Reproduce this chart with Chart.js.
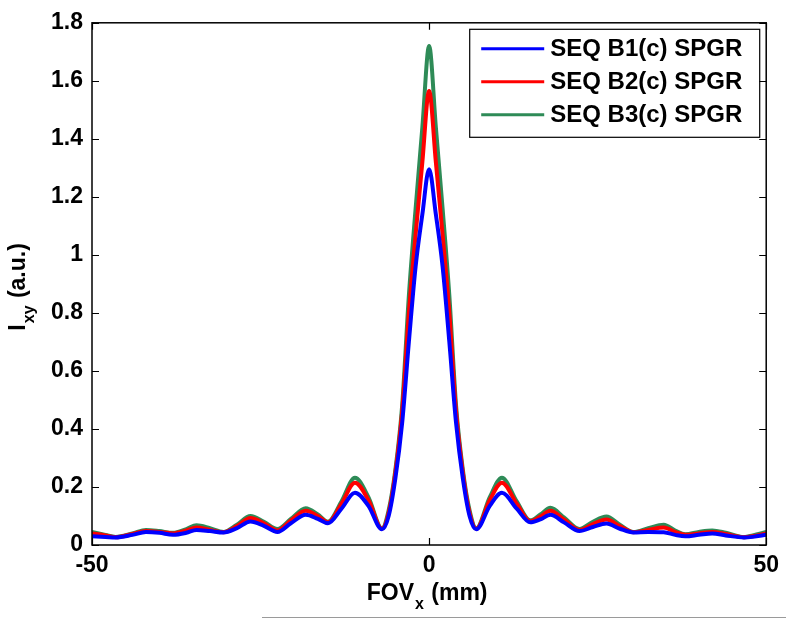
<!DOCTYPE html>
<html>
<head>
<meta charset="utf-8">
<script src="https://cdn.jsdelivr.net/npm/chart.js@4.4.0/dist/chart.umd.min.js"></script>
<style>
  html, body { margin: 0; padding: 0; background: #fff; }
  #wrap { width: 786px; height: 619px; }
</style>
</head>
<body>
<div id="wrap"><canvas id="psfChart" width="786" height="619"></canvas></div>
<script>
// Field of view positions (mm)
const fovX = [-50, -48, -46.5, -44, -42, -40, -38, -36, -34.5, -32.5, -30.5, -28.5, -26.5, -24.5, -22.5, -20.5, -18.3, -16.5, -15, -13, -11, -9, -7, -6, -5, -4, -3, -2, -1, 0, 1, 2, 3, 4, 5, 6, 7, 9, 10.8, 13, 15, 16.5, 18, 20, 22.3, 24.3, 26.3, 28.3, 30.3, 32.5, 34.8, 36.5, 38, 40, 42, 44, 46.7, 48, 50]

// Ixy (a.u.) per sequence
const seqB1 = [0.030, 0.028, 0.026, 0.035, 0.045, 0.042, 0.035, 0.042, 0.052, 0.048, 0.043, 0.058, 0.081, 0.066, 0.045, 0.075, 0.104, 0.090, 0.075, 0.125, 0.180, 0.135, 0.054, 0.10, 0.23, 0.42, 0.70, 0.96, 1.14, 1.295, 1.14, 0.96, 0.70, 0.42, 0.23, 0.10, 0.054, 0.135, 0.180, 0.125, 0.078, 0.088, 0.104, 0.078, 0.048, 0.062, 0.074, 0.056, 0.043, 0.045, 0.044, 0.035, 0.030, 0.035, 0.040, 0.033, 0.026, 0.028, 0.035]
const seqB2 = [0.040, 0.033, 0.027, 0.038, 0.048, 0.045, 0.040, 0.050, 0.060, 0.052, 0.044, 0.065, 0.093, 0.075, 0.050, 0.085, 0.118, 0.100, 0.078, 0.142, 0.215, 0.155, 0.056, 0.11, 0.25, 0.46, 0.80, 1.07, 1.32, 1.565, 1.32, 1.07, 0.80, 0.46, 0.25, 0.11, 0.056, 0.155, 0.215, 0.142, 0.082, 0.098, 0.118, 0.088, 0.052, 0.072, 0.088, 0.065, 0.044, 0.052, 0.060, 0.045, 0.035, 0.040, 0.045, 0.038, 0.027, 0.030, 0.040]
const seqB3 = [0.045, 0.035, 0.028, 0.040, 0.052, 0.048, 0.042, 0.055, 0.068, 0.058, 0.045, 0.070, 0.100, 0.080, 0.055, 0.090, 0.127, 0.105, 0.080, 0.150, 0.232, 0.165, 0.058, 0.12, 0.26, 0.48, 0.86, 1.16, 1.44, 1.72, 1.44, 1.16, 0.86, 0.48, 0.26, 0.12, 0.058, 0.165, 0.232, 0.150, 0.085, 0.105, 0.128, 0.095, 0.055, 0.080, 0.098, 0.070, 0.045, 0.058, 0.070, 0.050, 0.037, 0.045, 0.050, 0.042, 0.027, 0.033, 0.045]

const seriesLabels = ['SEQ B1(c) SPGR', 'SEQ B2(c) SPGR', 'SEQ B3(c) SPGR']
const seriesColors = ['#0000ff', '#ff0000', '#2e8b57']

// Axis ticks
const xTicks = [-50, 0, 50]
const xTickLabels = ['-50', '0', '50']
const yTicks = [0, 0.2, 0.4, 0.6, 0.8, 1, 1.2, 1.4, 1.6, 1.8]
const yTickLabels = ['0', '0.2', '0.4', '0.6', '0.8', '1', '1.2', '1.4', '1.6', '1.8']

const FAMILY = '"Liberation Sans", Arial, sans-serif'
const FONT = 'bold 23px ' + FAMILY
const LEGEND_FONT = 'bold 24px ' + FAMILY
const SUB_FONT = 'bold 16px ' + FAMILY

function toPoints(ys) {
  return fovX.map((x, i) => ({ x: x, y: ys[i] }))
}

// Box, inward ticks, axis titles, legend and the thin grey line below
const matlabFrame = {
  id: 'matlabFrame',
  afterDraw(chart) {
    const { ctx, chartArea: a, scales } = chart
    const xs = scales.x
    const ys = scales.y
    ctx.save()
    ctx.strokeStyle = '#000'
    ctx.lineWidth = 1.5
    ctx.strokeRect(a.left, a.top, a.right - a.left, a.bottom - a.top)

    const tl = 7
    ctx.beginPath()
    xTicks.forEach((v) => {
      const px = Math.round(xs.getPixelForValue(v)) + 0.5
      ctx.moveTo(px, a.bottom); ctx.lineTo(px, a.bottom - tl)
      ctx.moveTo(px, a.top); ctx.lineTo(px, a.top + tl)
    })
    yTicks.forEach((v) => {
      const py = Math.round(ys.getPixelForValue(v)) + 0.5
      ctx.moveTo(a.left, py); ctx.lineTo(a.left + tl, py)
      ctx.moveTo(a.right, py); ctx.lineTo(a.right - tl, py)
    })
    ctx.lineWidth = 1.2
    ctx.stroke()

    // x title with subscript
    ctx.fillStyle = '#000'
    ctx.textBaseline = 'alphabetic'
    ctx.textAlign = 'left'
    const p1 = 'FOV', p2 = 'x', p3 = ' (mm)'
    ctx.font = FONT
    const w1 = ctx.measureText(p1).width
    const w3 = ctx.measureText(p3).width
    ctx.font = SUB_FONT
    const w2 = ctx.measureText(p2).width
    const tx = (a.left + a.right) / 2 - 3 - (w1 + w2 + w3) / 2
    const ty = 600
    ctx.font = FONT
    ctx.fillText(p1, tx, ty)
    ctx.font = SUB_FONT
    ctx.fillText(p2, tx + w1 + 1, ty + 9)
    ctx.font = FONT
    ctx.fillText(p3, tx + w1 + w2 + 2, ty)

    // y title, rotated, with subscript
    ctx.save()
    ctx.translate(25, (a.top + a.bottom) / 2 + 4)
    ctx.rotate(-Math.PI / 2)
    const q1 = 'I', q2 = 'xy', q3 = ' (a.u.)'
    ctx.font = FONT
    const v1 = ctx.measureText(q1).width
    const v3 = ctx.measureText(q3).width
    ctx.font = SUB_FONT
    const v2 = ctx.measureText(q2).width
    const sx = -(v1 + v2 + v3) / 2
    ctx.font = FONT
    ctx.fillText(q1, sx, 0)
    ctx.font = SUB_FONT
    ctx.fillText(q2, sx + v1 + 1, 9)
    ctx.font = FONT
    ctx.fillText(q3, sx + v1 + v2 + 2, 0)
    ctx.restore()

    // legend box
    const bw = 290, bh = 108
    const bx = a.right - 7 - bw
    const by = a.top + 6
    ctx.fillStyle = '#fff'
    ctx.fillRect(bx, by, bw, bh)
    ctx.strokeStyle = '#000'
    ctx.lineWidth = 1.2
    ctx.strokeRect(bx + 0.5, by + 0.5, bw, bh)
    ctx.font = LEGEND_FONT
    ctx.textBaseline = 'middle'
    chart.data.datasets.forEach((ds, i) => {
      const ry = by + 20 + i * 33
      ctx.strokeStyle = ds.borderColor
      ctx.lineWidth = 3
      ctx.beginPath()
      ctx.moveTo(bx + 12, ry); ctx.lineTo(bx + 75, ry)
      ctx.stroke()
      ctx.fillStyle = '#000'
      ctx.fillText(ds.label, bx + 81, ry + 1)
    })

    // grey rule at the bottom of the picture
    ctx.strokeStyle = '#9a9a9a'
    ctx.lineWidth = 1
    ctx.beginPath()
    ctx.moveTo(262, 617.5); ctx.lineTo(786, 617.5)
    ctx.stroke()
    ctx.restore()
  }
}

const ctx = document.getElementById('psfChart').getContext('2d')
new Chart(ctx, {
  type: 'line',
  data: {
    datasets: [seqB1, seqB2, seqB3].map((ys, i) => ({
      label: seriesLabels[i],
      data: toPoints(ys),
      borderColor: seriesColors[i],
      borderWidth: 4,
      pointRadius: 0,
      fill: false,
      cubicInterpolationMode: 'monotone'
    }))
  },
  options: {
    responsive: false,
    animation: false,
    layout: { padding: { top: 16, right: 16, left: 0, bottom: 0 } },
    plugins: {
      legend: { display: false },
      tooltip: { enabled: false }
    },
    scales: {
      x: {
        type: 'linear',
        min: -50,
        max: 50,
        grid: { display: false, drawTicks: false },
        border: { display: false },
        afterBuildTicks: (scale) => { scale.ticks = xTicks.map((v) => ({ value: v })) },
        afterFit: (scale) => { scale.height = 74 },
        ticks: {
          color: '#000',
          font: { family: FAMILY, size: 23, weight: 'bold' },
          padding: 7,
          maxRotation: 0,
          callback: (v) => xTickLabels[xTicks.indexOf(v)]
        }
      },
      y: {
        min: 0,
        max: 1.8,
        grid: { display: false, drawTicks: false },
        border: { display: false },
        afterBuildTicks: (scale) => { scale.ticks = yTicks.map((v) => ({ value: v })) },
        afterFit: (scale) => { scale.width = 92 },
        ticks: {
          color: '#000',
          font: { family: FAMILY, size: 23, weight: 'bold' },
          padding: 9,
          callback: (v) => yTickLabels[yTicks.indexOf(v)]
        }
      }
    }
  },
  plugins: [matlabFrame]
})
</script>
</body>
</html>
